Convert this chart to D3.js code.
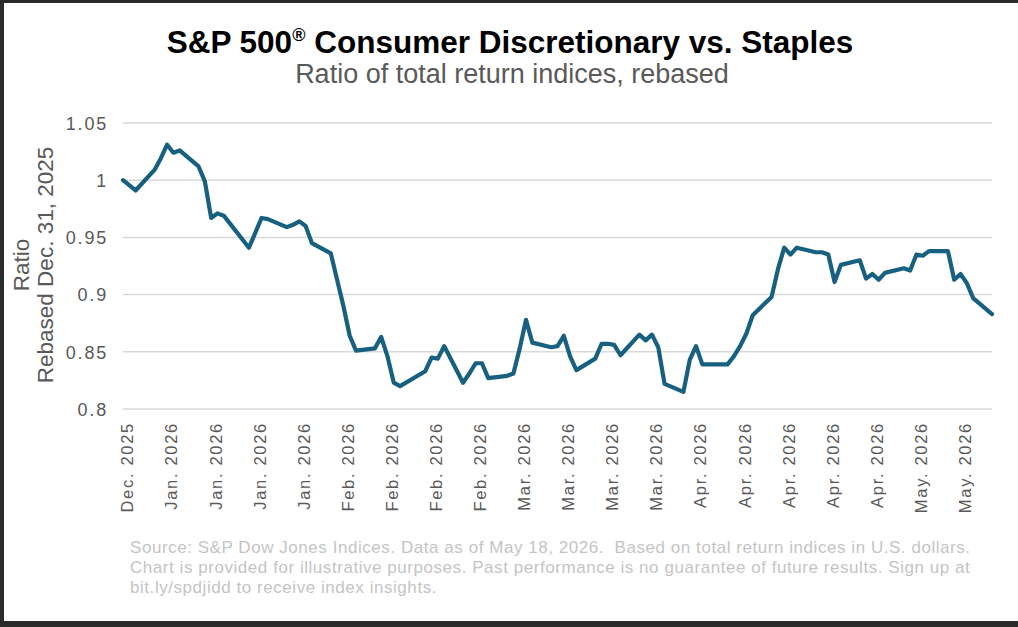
<!DOCTYPE html>
<html>
<head>
<meta charset="utf-8">
<title>S&amp;P 500 Consumer Discretionary vs. Staples</title>
<script src="https://cdn.jsdelivr.net/npm/d3@7"></script>
<style>
  body { margin: 0; background: #2b2b2b; }
  svg { display: block; }
  text { font-family: "Liberation Sans", Arial, sans-serif; }
</style>
</head>
<body>
<svg id="chart" width="1018" height="627"></svg>
<script>
// trading days, Dec 31 2025 -> May 18 2026
var dates = [
  "2025-12-31","2026-01-02","2026-01-05","2026-01-06","2026-01-07","2026-01-08","2026-01-09",
  "2026-01-12","2026-01-13","2026-01-14","2026-01-15","2026-01-16","2026-01-20","2026-01-21",
  "2026-01-22","2026-01-23","2026-01-26","2026-01-27","2026-01-28","2026-01-29","2026-01-30",
  "2026-02-02","2026-02-03","2026-02-04","2026-02-05","2026-02-06","2026-02-09","2026-02-10",
  "2026-02-11","2026-02-12","2026-02-13","2026-02-17","2026-02-18","2026-02-19","2026-02-20",
  "2026-02-23","2026-02-24","2026-02-25","2026-02-26","2026-02-27","2026-03-02","2026-03-03",
  "2026-03-04","2026-03-05","2026-03-06","2026-03-09","2026-03-10","2026-03-11","2026-03-12",
  "2026-03-13","2026-03-16","2026-03-17","2026-03-18","2026-03-19","2026-03-20","2026-03-23",
  "2026-03-24","2026-03-25","2026-03-26","2026-03-27","2026-03-30","2026-03-31","2026-04-01",
  "2026-04-02","2026-04-06","2026-04-07","2026-04-08","2026-04-09","2026-04-10","2026-04-13",
  "2026-04-14","2026-04-15","2026-04-16","2026-04-17","2026-04-20","2026-04-21","2026-04-22",
  "2026-04-23","2026-04-24","2026-04-27","2026-04-28","2026-04-29","2026-04-30","2026-05-01",
  "2026-05-04","2026-05-05","2026-05-06","2026-05-07","2026-05-08","2026-05-11","2026-05-12",
  "2026-05-13","2026-05-14","2026-05-15","2026-05-18"
];

// discretionary / staples total return ratio, rebased to 1
var ratio = [
  1.000, 0.991, 1.009, 1.019, 1.031, 1.024, 1.026,
  1.012, 0.999, 0.967, 0.971, 0.969, 0.941, 0.954,
  0.967, 0.966, 0.959, 0.961, 0.964, 0.960, 0.945,
  0.936, 0.913, 0.890, 0.864, 0.851, 0.853, 0.863,
  0.846, 0.823, 0.820, 0.833, 0.845, 0.844, 0.855,
  0.823, 0.831, 0.840, 0.840, 0.827, 0.829, 0.831,
  0.853, 0.878, 0.858, 0.854, 0.855, 0.864, 0.846,
  0.834, 0.844, 0.857, 0.857, 0.856, 0.847, 0.865,
  0.860, 0.865, 0.854, 0.822, 0.815, 0.843, 0.855,
  0.839, 0.839, 0.846, 0.855, 0.866, 0.882, 0.898,
  0.922, 0.941, 0.935, 0.941, 0.937, 0.937, 0.935,
  0.911, 0.926, 0.930, 0.914, 0.918, 0.913, 0.919,
  0.923, 0.921, 0.935, 0.934, 0.938, 0.938, 0.913,
  0.918, 0.910, 0.897, 0.883
];

var yTicks = [0.8, 0.85, 0.9, 0.95, 1, 1.05];
var yTickLabels = ["0.8", "0.85", "0.9", "0.95", "1", "1.05"];

var title = "S&P 500";
var titleRest = " Consumer Discretionary vs. Staples";
var subtitle = "Ratio of total return indices, rebased";
var yTitle = ["Ratio", "Rebased Dec. 31, 2025"];
var footnote = [
  "Source: S&P Dow Jones Indices. Data as of May 18, 2026.  Based on total return indices in U.S. dollars.",
  "Chart is provided for illustrative purposes. Past performance is no guarantee of future results. Sign up at",
  "bit.ly/spdjidd to receive index insights."
];

var W = 1018, H = 627;
var margin = {left: 123, right: 26, top: 123, bottom: 218};

var parse = d3.utcParse("%Y-%m-%d");
var data = dates.map(function (d, i) { return {date: parse(d), v: ratio[i]}; });

var svg = d3.select("#chart");

// dark frame + white card
svg.append("rect").attr("width", W).attr("height", H).attr("fill", "#2b2b2b");
svg.append("rect").attr("x", 4).attr("y", 3).attr("width", W - 4).attr("height", H - 9).attr("fill", "#ffffff");

var x = d3.scaleUtc()
  .domain([data[0].date, data[data.length - 1].date])
  .range([margin.left, W - margin.right]);

var y = d3.scaleLinear()
  .domain([0.8, 1.05])
  .range([H - margin.bottom, margin.top]);

// gridlines
svg.append("g").selectAll("line")
  .data(yTicks)
  .enter().append("line")
  .attr("x1", margin.left)
  .attr("x2", W - margin.right)
  .attr("y1", function (d) { return y(d); })
  .attr("y2", function (d) { return y(d); })
  .attr("stroke", "#d9d9d9")
  .attr("stroke-width", 1.5);

// y axis labels
var yAxis = d3.axisLeft(y)
  .tickValues(yTicks)
  .tickFormat(function (d, i) { return yTickLabels[i]; })
  .tickSize(0)
  .tickPadding(15);

var gy = svg.append("g")
  .attr("transform", "translate(" + margin.left + ",0)")
  .call(yAxis);
gy.select(".domain").remove();
gy.selectAll("text")
  .attr("fill", "#595959")
  .style("font-size", "18px")
  .style("letter-spacing", "1.8px")
  .attr("dy", "0.35em");

// x axis: weekly ticks from Dec 31
var xTicks = d3.utcDay.range(data[0].date, data[data.length - 1].date, 7);
var xAxis = d3.axisBottom(x)
  .tickValues(xTicks)
  .tickFormat(d3.utcFormat("%b. %Y"))
  .tickSize(0)
  .tickPadding(0);

var gx = svg.append("g")
  .attr("transform", "translate(0," + (H - margin.bottom) + ")")
  .call(xAxis);
gx.select(".domain").remove();
gx.selectAll("text")
  .attr("fill", "#595959")
  .style("font-size", "16.5px")
  .style("letter-spacing", "1.7px")
  .attr("text-anchor", "end")
  .attr("transform", "rotate(-90)")
  .attr("x", -13)
  .attr("y", 0)
  .attr("dy", "0.6em");

// line
var line = d3.line()
  .x(function (d) { return x(d.date); })
  .y(function (d) { return y(d.v); });

svg.append("path")
  .datum(data)
  .attr("d", line)
  .attr("fill", "none")
  .attr("stroke", "#17607f")
  .attr("stroke-width", 4.2)
  .attr("stroke-linejoin", "round")
  .attr("stroke-linecap", "round");

// title
var t = svg.append("text")
  .attr("x", 510)
  .attr("y", 53)
  .attr("text-anchor", "middle")
  .style("font-size", "31.5px")
  .style("font-weight", "bold")
  .attr("fill", "#000");
t.append("tspan").text(title);
t.append("tspan").text("\u00AE").style("font-size", "18px").attr("dy", "-12");
t.append("tspan").text(titleRest).attr("dy", "12");

svg.append("text")
  .attr("x", 512)
  .attr("y", 83)
  .attr("text-anchor", "middle")
  .style("font-size", "27px")
  .attr("fill", "#595959")
  .text(subtitle);

// y title
var yt = svg.append("text")
  .attr("transform", "translate(0,265) rotate(-90)")
  .attr("text-anchor", "middle")
  .style("font-size", "22.5px")
  .attr("fill", "#595959");
yt.append("tspan").attr("x", 0).attr("y", 29).text(yTitle[0]);
yt.append("tspan").attr("x", 0).attr("y", 53).text(yTitle[1]);

// footnote
svg.append("g").selectAll("text")
  .data(footnote)
  .enter().append("text")
  .attr("x", 130)
  .attr("y", function (d, i) { return 553 + i * 20; })
  .style("font-size", "17px")
  .style("letter-spacing", "0.55px")
  .style("white-space", "pre")
  .attr("fill", "#c4c4c4")
  .text(function (d) { return d; });
</script>
</body>
</html>
